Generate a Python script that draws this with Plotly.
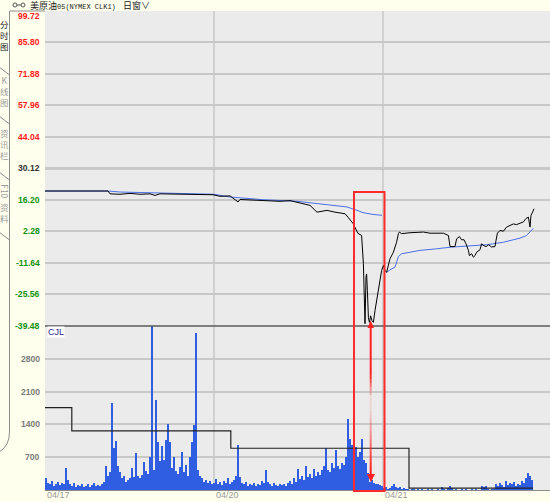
import plotly.graph_objects as go

# ---- data (x = one-minute-ish bar index along the session) ----
price_ticks = [99.72, 85.80, 71.88, 57.96, 44.04, 30.12, 16.20, 2.28, -11.64, -25.56, -39.48]
vol_ticks = [700, 1400, 2100, 2800]
date_labels = ["04/17", "04/20", "04/21"]

price_t = [-0.5, 31, 32, 37, 42, 47, 52, 54.5, 57, 64.5, 72, 79.5, 83.5, 87, 92, 95, 96, 97,
           107, 117, 122, 127, 132, 135.5, 140.5, 144.5, 149.5, 151, 153.5, 156, 157.8, 158.7,
           159.2, 159.5, 160, 160.3, 160.7, 161.2, 161.7, 162.3, 163, 163.7, 164.5, 166.2,
           167.8, 168.7, 169.5, 170.3, 171.2, 172, 173.7, 175.3, 176.2, 176.7, 177.8, 182,
           188.7, 192, 198.7, 201.2, 202, 204.5, 205.3, 206.7, 207.8, 209, 210, 211.2, 211.7,
           212.8, 213.7, 214.5, 215.3, 217, 217.8, 219, 220.3, 221.2, 222.8, 224.5, 225,
           225.7, 227, 228.7, 230.3, 232, 233.7, 235.3, 237, 238.7, 240, 241.2, 242, 242.5,
           243.3, 244]
price = [20.15, 20.15, 18.9, 18.7, 19.1, 18.7, 18.9, 18.2, 18.9, 18.7, 18.7, 18.6, 18.5, 17.8,
         18.0, 16.0, 15.3, 16.4, 16.0, 15.6, 15.9, 14.8, 13.8, 10.8, 11.6, 10.8, 10.1, 8.6, 5.8,
         1.4, 0.5, -11.9, -23.9, -38.5, -18.0, -16.5, -23.9, -35.7, -37.9, -35.0, -37.2, -37.9,
         -32.7, -23.9, -15.0, -12.8, -15.0, -15.8, -12.8, -9.8, -6.9, -2.5, 1.3, 2.0, 1.3, 1.7,
         2.0, 1.5, 1.5, 0.5, -4.4, -4.4, -1.0, 0.0, -1.4, -1.4, -3.2, -6.1, -8.4, -7.6, -9.1,
         -8.4, -6.9, -5.8, -3.2, -4.1, -4.4, -3.6, -4.6, -4.4, -1.7, 1.5, 2.7, 2.4, 4.2, 4.9,
         5.6, 5.3, 6.0, 6.5, 8.0, 8.6, 4.2, 9.4, 10.8, 12.3]

avg_t = [-0.5, 31, 37, 52, 67, 83.5, 84, 92, 108.5, 125.5, 135.5, 142, 150.5, 155.5, 158.5,
         163.5, 168, None, 170.3, 172, 174.5, 175.3, 176.2, 177.8, 182, 187, 195.3, 202,
         220.3, 228.7, 233.7, 237, 240.3, 242, 243.7]
avg_price = [20.15, 20.15, 19.7, 19.4, 19.3, 19.0, 18.7, 17.5, 16.3, 15.6, 14.6, 14.2, 13.1,
             11.6, 10.6, 9.8, 9.4, None, -15.8, -14.7, -13.5, -11.3, -8.8, -7.6, -6.9, -6.1,
             -5.4, -4.7, -3.6, -2.5, -1.4, -0.7, 0.5, 2.0, 3.7]

vol_0417 = [260, 150, 120, 200, 90, 140, 180, 100, 160, 120, 470, 210, 130, 90, 160, 70, 110,
            80, 140, 60, 90, 120, 70, 100, 150, 80, 110, 90, 130, 180, 510, 300, 380, 1850, 900,
            1040, 520, 380, 250, 300, 180, 220, 260, 470, 280, 790, 300, 260, 330, 600, 400,
            350, 710, 3500, 420, 1920, 1030, 620, 940, 650, 1070, 1420, 1030, 480, 710, 400,
            350, 500, 820, 380, 530, 300, 710, 1030, 1390, 3350, 420, 300, 250, 180, 220, 150,
            200, 120]
vol_0420 = [160, 230, 140, 180, 110, 200, 150, 250, 130, 170, 220, 300, 960, 280, 150, 120,
            180, 90, 140, 110, 160, 80, 130, 100, 190, 150, 420, 170, 120, 90, 150, 110, 80,
            140, 100, 120, 90, 160, 200, 130, 250, 180, 460, 240, 300, 210, 520, 280, 350, 260,
            450, 300, 380, 330, 420, 510, 890, 430, 390, 570, 480, 850, 520, 460, 570, 530,
            710, 1520, 1100, 960, 620, 930, 700, 820, 1100, 640, 570, 360, 180, 220, 150, 120,
            130, 100]
vol_0421 = [90, 40, 60, 30, 50, 80, 130, 60, 40, 70, 30, 50, 20, 30, 0, 20, 10, 0, 20, 0, 10,
            0, 0, 20, 0, 10, 0, 0, 10, 0, 60, 20, 0, 50, 80, 40, 0, 10, 0, 0, 20, 0, 10, 0, 0,
            20, 0, 10, 0, 0, 90, 60, 90, 30, 0, 20, 10, 120, 80, 150, 100, 60, 190, 110, 160,
            130, 180, 90, 140, 100, 200, 150, 250, 370, 300, 220]

# daily reference (step line in the CJL panel)
step_t = [-0.5, 12.9, 92.4, 181.5, 243.5]
step_val = [1756, 1259, 890, 40, 40]

volume = vol_0417 + vol_0420 + vol_0421
vol_t = list(range(len(volume)))

# ---- pixel helpers (figure is 550x502) ----
PL, PR, PT, PB = 45, 550, 11, 490
SPLIT = 325.9


def px(x):
    return (x - PL) / (PR - PL)


def py(y):
    return (PB - y) / (PB - PT)


fig = go.Figure()

fig.add_trace(go.Bar(x=vol_t, y=volume, width=1, marker=dict(color="#2F5EE2", line_width=0),
                     xaxis="x", yaxis="y2", name="CJL"))
fig.add_trace(go.Scatter(x=step_t, y=step_val, mode="lines", line=dict(color="#222222", width=1.2, shape="hv"),
                         xaxis="x", yaxis="y2"))
fig.add_trace(go.Scatter(x=avg_t, y=avg_price, mode="lines", line=dict(color="#4A6FE8", width=1),
                         connectgaps=False, xaxis="x", yaxis="y"))
fig.add_trace(go.Scatter(x=price_t, y=price, mode="lines", line=dict(color="#000000", width=1),
                         xaxis="x", yaxis="y"))

shapes = []
grid = "#C8C8C8"
# vertical day separators
for xx in (214, 383):
    shapes.append(dict(type="line", xref="paper", yref="paper", x0=px(xx), x1=px(xx), y0=0, y1=1,
                       line=dict(color=grid, width=1.5), layer="below"))
# 30.12 reference line and panel separator
shapes.append(dict(type="line", xref="paper", yref="y", x0=0, x1=1, y0=30.12, y1=30.12,
                   line=dict(color="#A8A8A8", width=2), layer="below"))
shapes.append(dict(type="line", xref="paper", yref="paper", x0=0, x1=1, y0=py(SPLIT), y1=py(SPLIT),
                   line=dict(color="#5A5A5A", width=1.5)))

# red highlight box
shapes.append(dict(type="rect", xref="paper", yref="paper", x0=px(354), x1=px(384.5), y0=py(491),
                   y1=py(192), line=dict(color="#FF2A2A", width=2)))
# red arrow, fading in the middle
seg = 4
y = 327
while y < 477:
    mid = y + seg / 2
    if mid < 375:
        op = 1.0
    elif mid < 397:
        op = 1.0 - (mid - 375) / 22 * 0.9
    elif mid < 410:
        op = 0.1
    else:
        op = min(1.0, 0.1 + (mid - 410) / 60 * 0.9)
    shapes.append(dict(type="line", xref="paper", yref="paper", x0=px(370.7), x1=px(370.7),
                       y0=py(y), y1=py(min(y + seg, 477)), line=dict(color="#FF2020", width=2),
                       opacity=op))
    y += seg
shapes.append(dict(type="path", xref="paper", yref="paper", fillcolor="#FF2020", line=dict(width=0),
                   path="M %f %f L %f %f L %f %f Z" % (px(370.7), py(320.5), px(367.5), py(328),
                                                       px(374), py(328))))
shapes.append(dict(type="path", xref="paper", yref="paper", fillcolor="#FF2020", line=dict(width=0),
                   path="M %f %f L %f %f L %f %f Z" % (px(370.9), py(482), px(367), py(474),
                                                       px(375), py(474))))

# left side tab strip
side = "#8C8C8C"
shapes.append(dict(type="line", xref="paper", yref="paper", x0=px(10), x1=px(45), y0=py(11), y1=py(11),
                   line=dict(color=side, width=1)))
shapes.append(dict(type="path", xref="paper", yref="paper", line=dict(color=side, width=1),
                   path="M %f %f L %f %f Q %f %f %f %f" % (px(9.5), py(11), px(9.5), py(432),
                                                          px(9.5), py(446), px(-1), py(452))))
for yy in (67, 116, 172, 232):
    shapes.append(dict(type="line", xref="paper", yref="paper", x0=px(-1), x1=px(9.5), y0=py(yy),
                       y1=py(yy + 8), line=dict(color=side, width=1)))
# header icon
for cx in (15, 23):
    shapes.append(dict(type="circle", xref="paper", yref="paper", x0=px(cx - 2), x1=px(cx + 2),
                       y0=py(7), y1=py(3), line=dict(color="#555555", width=1)))
shapes.append(dict(type="line", xref="paper", yref="paper", x0=px(17), x1=px(21), y0=py(5), y1=py(5),
                   line=dict(color="#555555", width=1)))

ann = []
num_font = "Liberation Sans"
for v in price_ticks:
    if v > 30.13:
        col = "#FF1A1A"
    elif v > 30.11:
        col = "#333333"
    else:
        col = "#109010"
    ann.append(dict(xref="paper", yref="y", x=px(42), y=v, text="%.2f" % v, showarrow=False,
                    xanchor="right", yanchor="middle", yshift=-5 if v == price_ticks[0] else 0,
                    font=dict(family=num_font, size=8.6, color=col, weight="bold")))
for v in vol_ticks:
    ann.append(dict(xref="paper", yref="y2", x=px(42), y=v, text=str(v), showarrow=False,
                    xanchor="right", yanchor="middle",
                    font=dict(family=num_font, size=8.6, color="#7A7A7A", weight="bold")))
for lab, xx in zip(date_labels, (45, 214, 383)):
    ann.append(dict(xref="paper", yref="paper", x=px(xx), y=py(495.5), text=lab, showarrow=False,
                    xanchor="left", yanchor="middle",
                    font=dict(family=num_font, size=9, color="#9A9A9A")))
ann.append(dict(xref="paper", yref="paper", x=px(46.5), y=py(331.5), text="CJL", showarrow=False,
                xanchor="left", yanchor="middle", bgcolor="#FFFFFF", borderpad=0,
                font=dict(family=num_font, size=9, color="#2B2B8C")))
ann.append(dict(xref="paper", yref="paper", x=px(28), y=py(5.5),
                text="美原油<span style='font-size:7px;font-family:Liberation Mono'>05(NYMEX CLK1)</span>",
                showarrow=False, xanchor="left", yanchor="middle",
                font=dict(family="Noto Sans CJK SC", size=9, color="#222222")))
ann.append(dict(xref="paper", yref="paper", x=px(120.5), y=py(5.5), text="日窗∨", showarrow=False,
                xanchor="left", yanchor="middle",
                font=dict(family="Noto Sans CJK SC", size=9, color="#222222")))
# vertical tab captions
tabs = [("分<br>时<br>图", 35, "#222222"), ("K<br>线<br>图", 91, "#9A9A9A"),
        ("资<br>讯<br>栏", 144, "#9A9A9A"), ("资<br>料", 213, "#9A9A9A")]
for txt, yy, col in tabs:
    ann.append(dict(xref="paper", yref="paper", x=px(4.8), y=py(yy), text=txt, showarrow=False,
                    xanchor="center", yanchor="middle",
                    font=dict(family="Noto Sans CJK SC", size=8.5, color=col)))
ann.append(dict(xref="paper", yref="paper", x=px(4.8), y=py(191), text="F10", showarrow=False,
                textangle=90, xanchor="center", yanchor="middle",
                font=dict(family="Noto Sans CJK SC", size=8.5, color="#9A9A9A")))

fig.update_layout(
    width=550, height=502,
    margin=dict(l=PL, r=0, t=PT, b=502 - PB),
    paper_bgcolor="#FFFFEE", plot_bgcolor="#EBEBEB",
    showlegend=False, bargap=0,
    xaxis=dict(range=[-0.5, 252], anchor="y2", showgrid=False, zeroline=False, showticklabels=False,
               showline=True, linecolor="#8A8A8A", linewidth=1, ticks=""),
    yaxis=dict(domain=[py(SPLIT), 1], range=[-39.48, 99.72], tickvals=price_ticks, showticklabels=False,
               gridcolor=grid, gridwidth=1.5, zeroline=False, showline=False),
    yaxis2=dict(domain=[0, py(SPLIT)], range=[0, 3500], tickvals=vol_ticks, showticklabels=False,
                gridcolor=grid, gridwidth=1.5, zeroline=False, showline=False),
    shapes=shapes, annotations=ann,
)

# the page body carries a default 8px margin; drop it so the chart sits at the window corner
fig.write_html("out.html", config={"displayModeBar": False},
               post_script="document.body.style.margin='0';")
